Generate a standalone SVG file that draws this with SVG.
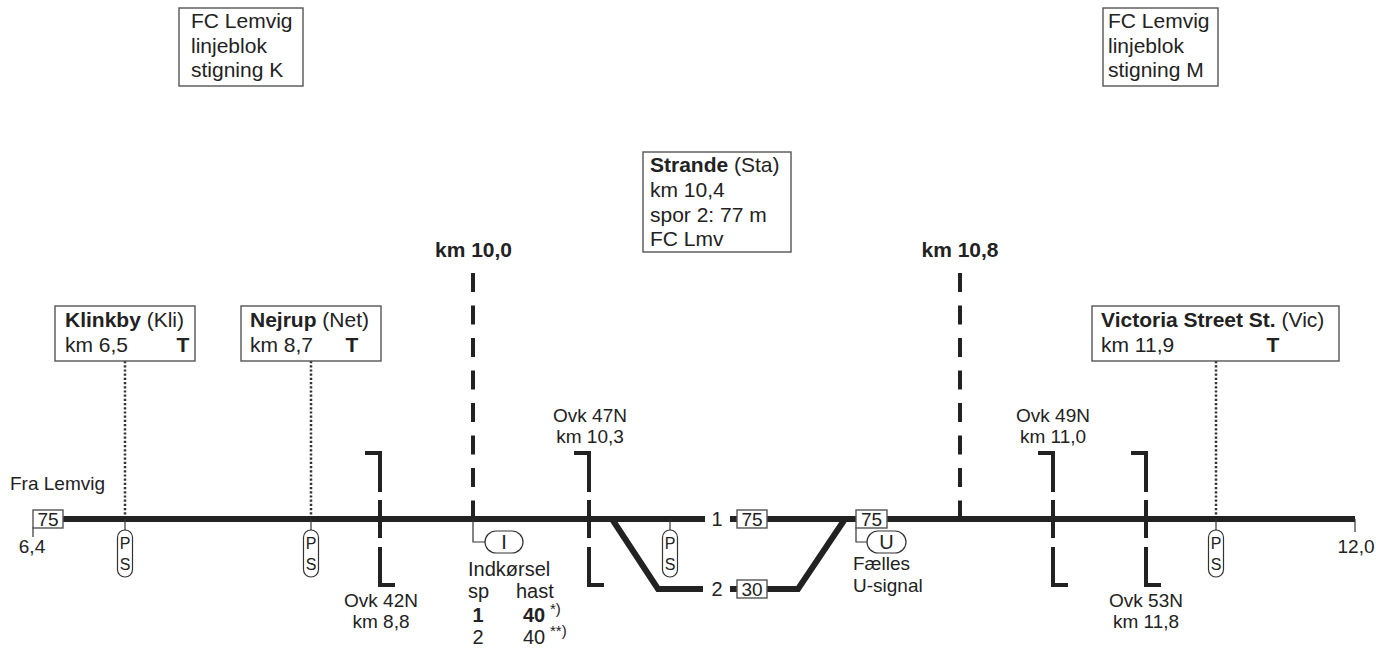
<svg xmlns="http://www.w3.org/2000/svg" width="1376" height="648" viewBox="0 0 1376 648">
<style>
text{font-family:"Liberation Sans",Arial,sans-serif;fill:#222}
.big{font-size:21px}
.mdl{font-size:20px}
.sm{font-size:19px}
.b{font-weight:bold}
.box{fill:#fff;stroke:#555;stroke-width:1.4}
.trk{fill:none;stroke:#222;stroke-width:6;stroke-linejoin:miter}
.thin{fill:none;stroke:#333;stroke-width:1.2}
.dot{fill:none;stroke:#333;stroke-width:2.5;stroke-dasharray:2.2 2}
.km{fill:none;stroke:#222;stroke-width:4;stroke-dasharray:19 13.5}
.ovk{fill:none;stroke:#222;stroke-width:4;stroke-linejoin:miter}
.pill{fill:#fff;stroke:#333;stroke-width:1.2}
.ps{font-size:16px;text-anchor:middle}
.spd{font-size:19px;text-anchor:middle}
.sig{font-size:20px;text-anchor:middle}
.mid{text-anchor:middle}
</style>
<defs>
<g id="psym">
<line x1="0" y1="0" x2="0" y2="11" class="thin"/>
<rect x="-7.5" y="11" width="15" height="47" rx="7.5" class="pill"/>
<text x="0" y="30" class="ps">P</text>
<text x="0" y="50.5" class="ps">S</text>
</g>
</defs>
<rect width="1376" height="648" fill="#fff"/>

<g id="connectors">
<line x1="125" y1="361" x2="125" y2="519" class="dot"/>
<line x1="311" y1="361" x2="311" y2="519" class="dot"/>
<line x1="1216" y1="361" x2="1216" y2="519" class="dot"/>
<line x1="473" y1="273" x2="473" y2="519" class="km"/>
<line x1="960" y1="273" x2="960" y2="519" class="km"/>
<path d="M63,519 H705" class="trk"/>
<path d="M730,519 H737" class="trk"/>
<path d="M767,519 H1355" class="trk"/>
<path d="M612,519 L658,589 H703" class="trk"/>
<path d="M730,589 H737" class="trk"/>
<path d="M767,589 H798 L845,519" class="trk"/>
<path d="M33,527 V537" class="thin"/>
<path d="M1355,519 V532" class="thin"/>
<path d="M473,519 V542 H485" class="thin"/>
<path d="M856,527 V542 H867" class="thin"/>
</g>

<g id="info-k">
<rect x="179" y="8" width="124" height="78" class="box"/>
<text x="191" y="28" class="big">FC Lemvig</text>
<text x="191" y="52.5" class="big">linjeblok</text>
<text x="191" y="77" class="big">stigning K</text>
</g>
<g id="info-m">
<rect x="1103" y="8" width="115" height="78" class="box"/>
<text x="1108" y="28" class="big">FC Lemvig</text>
<text x="1108" y="52.5" class="big">linjeblok</text>
<text x="1108" y="77" class="big">stigning M</text>
</g>

<g id="st-klinkby">
<rect x="55" y="306" width="140" height="55" class="box"/>
<text x="65" y="327" class="big"><tspan class="b">Klinkby</tspan> (Kli)</text>
<text x="65" y="352" class="big">km 6,5</text>
<text x="183" y="352" class="big b mid">T</text>
</g>
<g id="st-nejrup">
<rect x="241" y="306" width="140" height="55" class="box"/>
<text x="250" y="327" class="big"><tspan class="b">Nejrup</tspan> (Net)</text>
<text x="250" y="352" class="big">km 8,7</text>
<text x="352" y="352" class="big b mid">T</text>
</g>
<g id="st-strande">
<rect x="643" y="152" width="148" height="100" class="box"/>
<text x="650" y="172" class="big"><tspan class="b">Strande</tspan> (Sta)</text>
<text x="650" y="197" class="big">km 10,4</text>
<text x="650" y="221.5" class="big">spor 2: 77 m</text>
<text x="650" y="246" class="big">FC Lmv</text>
</g>
<g id="st-victoria">
<rect x="1092" y="306" width="247" height="55" class="box"/>
<text x="1101" y="327" class="big"><tspan class="b">Victoria Street St.</tspan> (Vic)</text>
<text x="1101" y="352" class="big">km 11,9</text>
<text x="1273" y="352" class="big b mid">T</text>
</g>

<g id="km100"><text x="473.5" y="257" class="big b mid">km 10,0</text></g>
<g id="km108"><text x="960" y="257" class="big b mid">km 10,8</text></g>

<g id="end-left">
<text x="10" y="490" class="sm">Fra Lemvig</text>
<rect x="33" y="510" width="30" height="18" class="box"/>
<text x="48" y="526" class="spd">75</text>
<text x="32" y="553" class="sm mid">6,4</text>
</g>
<g id="end-right">
<text x="1356" y="553" class="sm mid">12,0</text>
</g>

<g id="ps1"><use href="#psym" x="125" y="519"/></g>
<g id="ps2"><use href="#psym" x="311" y="519"/></g>
<g id="ps3"><use href="#psym" x="670" y="519"/></g>
<g id="ps4"><use href="#psym" x="1216" y="519"/></g>

<g id="ovk42">
<path d="M365,453 H380 V492 M380,500 V538 M380,547 V585 H395" class="ovk"/>
<text x="381" y="607" class="sm mid">Ovk 42N</text>
<text x="381" y="628" class="sm mid">km 8,8</text>
</g>
<g id="ovk47">
<path d="M574,453 H589 V492 M589,500 V538 M589,547 V585 H604" class="ovk"/>
<text x="590" y="422" class="sm mid">Ovk 47N</text>
<text x="590" y="443" class="sm mid">km 10,3</text>
</g>
<g id="ovk49">
<path d="M1038,453 H1053 V492 M1053,500 V538 M1053,547 V585 H1068" class="ovk"/>
<text x="1053" y="422" class="sm mid">Ovk 49N</text>
<text x="1053" y="443" class="sm mid">km 11,0</text>
</g>
<g id="ovk53">
<path d="M1131,453 H1146 V492 M1146,500 V538 M1146,547 V585 H1161" class="ovk"/>
<text x="1146" y="607" class="sm mid">Ovk 53N</text>
<text x="1146" y="628" class="sm mid">km 11,8</text>
</g>

<g id="sig-i">
<rect x="485" y="531" width="38" height="22" rx="11" class="pill"/>
<text x="504" y="549" class="sig">I</text>
<text x="468" y="576" class="mdl">Indkørsel</text>
<text x="468" y="598" class="mdl">sp</text>
<text x="516" y="598" class="mdl">hast</text>
<text x="478" y="622" class="mdl b mid">1</text>
<text x="523" y="622" class="mdl b">40</text>
<text x="550" y="614" style="font-size:15px">*)</text>
<text x="478" y="644" class="mdl mid">2</text>
<text x="523" y="644" class="mdl">40</text>
<text x="550" y="636" style="font-size:15px">**)</text>
</g>

<g id="spor1">
<text x="717" y="526" class="mdl mid">1</text>
<rect x="737" y="510" width="30" height="18" class="box"/>
<text x="752" y="526" class="spd">75</text>
</g>
<g id="spor2">
<text x="717" y="596" class="mdl mid">2</text>
<rect x="737" y="580" width="30" height="18" class="box"/>
<text x="752" y="596" class="spd">30</text>
</g>

<g id="sig-u">
<rect x="856" y="510" width="31" height="18" class="box"/>
<text x="871.5" y="526" class="spd">75</text>
<rect x="867" y="531" width="39" height="22" rx="11" class="pill"/>
<text x="886.5" y="549" class="sig">U</text>
<text x="853" y="570" class="sm">Fælles</text>
<text x="853" y="592" class="sm">U-signal</text>
</g>
</svg>
